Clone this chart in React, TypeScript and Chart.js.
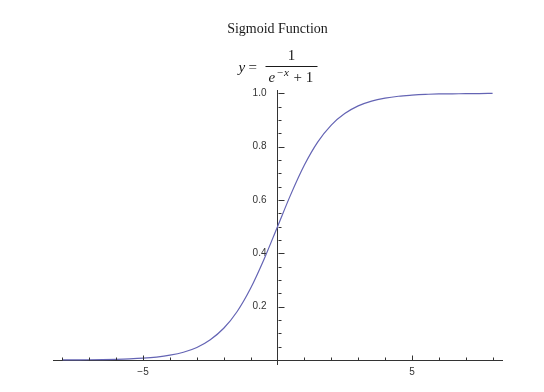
import { useEffect, useRef } from "react";
import { Chart, registerables } from "chart.js";

Chart.register(...registerables);

const xValues = [-8, -7.5, -7, -6.5, -6, -5.5, -5, -4.5, -4, -3.5, -3, -2.5, -2, -1.5, -1, -0.5, 0, 0.5, 1, 1.5, 2, 2.5, 3, 3.5, 4, 4.5, 5, 5.5, 6, 6.5, 7, 7.5, 8];
const yValues = [0.0003, 0.0006, 0.0009, 0.0015, 0.0025, 0.0041, 0.0067, 0.011, 0.018, 0.029, 0.047, 0.076, 0.119, 0.182, 0.269, 0.378, 0.5, 0.622, 0.731, 0.818, 0.881, 0.924, 0.953, 0.971, 0.982, 0.989, 0.993, 0.996, 0.998, 0.998, 0.999, 0.999, 1.0];

const xMajorTicks = [-5, 5];
const xMinorTicks = [-8, -7, -6, -4, -3, -2, -1, 1, 2, 3, 4, 6, 7, 8];
const yMajorTicks = [0.2, 0.4, 0.6, 0.8, 1.0];
const yMinorTicks = [0.05, 0.1, 0.15, 0.25, 0.3, 0.35, 0.45, 0.5, 0.55, 0.65, 0.7, 0.75, 0.85, 0.9, 0.95];

const chartTitle = "Sigmoid Function";

const AXIS = "#333333";
const TEXT = "#333333";
const CURVE = "rgb(100,100,180)";
const Y_LABEL_GAP = 11;

const ticksPlugin = {
  id: "mmaTicks",
  beforeDraw(chart: any) {
    const ys = chart.scales.y;
    const items = ys.getLabelItems ? ys.getLabelItems(chart.chartArea) : null;
    if (items && !(items as any).__shifted) {
      items.forEach((it: any) => {
        if (it.options && it.options.translation) it.options.translation[0] -= Y_LABEL_GAP;
      });
      (items as any).__shifted = true;
    }
  },
  afterDraw(chart: any) {
    const { ctx, scales } = chart;
    const xs = scales.x;
    const ys = scales.y;
    const y0 = Math.round(ys.getPixelForValue(0)) + 0.5;
    const x0 = Math.round(xs.getPixelForValue(0)) + 0.5;
    ctx.save();
    ctx.strokeStyle = AXIS;
    ctx.lineWidth = 1;
    ctx.beginPath();
    const xt = (v: number, len: number) => {
      const px = Math.round(xs.getPixelForValue(v)) + 0.5;
      ctx.moveTo(px, y0);
      ctx.lineTo(px, y0 - len);
    };
    xMinorTicks.forEach((v) => xt(v, 3));
    xMajorTicks.forEach((v) => xt(v, 5));
    const yt = (v: number, len: number) => {
      const py = Math.round(ys.getPixelForValue(v)) + 0.5;
      ctx.moveTo(x0, py);
      ctx.lineTo(x0 + len, py);
    };
    yMinorTicks.forEach((v) => yt(v, 3));
    yMajorTicks.forEach((v) => yt(v, 6));
    ctx.stroke();

    // formula  y = 1 / (e^{-x} + 1)
    const cx = xs.getPixelForValue(0);
    ctx.fillStyle = "#1a1a1a";
    ctx.textBaseline = "alphabetic";
    ctx.font = "italic 15px 'Liberation Serif'";
    ctx.textAlign = "left";
    ctx.fillText("y", cx - 39, 72);
    ctx.font = "15px 'Liberation Serif'";
    ctx.fillText("=", cx - 29, 72);
    ctx.beginPath();
    ctx.strokeStyle = "#1a1a1a";
    ctx.moveTo(cx - 12, 66.5);
    ctx.lineTo(cx + 40, 66.5);
    ctx.stroke();
    ctx.textAlign = "center";
    ctx.fillText("1", cx + 14, 60);
    ctx.textAlign = "left";
    ctx.font = "italic 15px 'Liberation Serif'";
    ctx.fillText("e", cx - 9, 82);
    ctx.font = "italic 11px 'Liberation Serif'";
    ctx.fillText("\u2212x", cx - 1, 76);
    ctx.font = "15px 'Liberation Serif'";
    ctx.fillText("+ 1", cx + 16, 82);
    ctx.restore();
  },
};

export default function App() {
  const ref = useRef<HTMLCanvasElement | null>(null);

  useEffect(() => {
    if (!ref.current) return;
    const chart = new Chart(ref.current, {
      type: "line",
      data: {
        labels: xValues,
        datasets: [
          {
            data: xValues.map((x, i) => ({ x, y: yValues[i] })),
            borderColor: CURVE,
            borderWidth: 1.2,
            pointRadius: 0,
            fill: false,
            cubicInterpolationMode: "monotone",
          },
        ],
      },
      options: {
        animation: false,
        responsive: false,
        devicePixelRatio: 1,
        events: [],
        layout: { padding: { top: 0, left: 53, right: 42, bottom: 28 } },
        plugins: {
          legend: { display: false },
          tooltip: { enabled: false },
          title: {
            display: true,
            text: chartTitle,
            color: "#1a1a1a",
            font: { family: "'Liberation Serif'", size: 14, weight: "normal", lineHeight: 1.2 },
            padding: { top: 20.5, bottom: 52.7 },
          },
        },
        scales: {
          x: {
            type: "linear",
            min: -8.35,
            max: 8.35,
            position: { y: 0 } as any,
            afterBuildTicks: (s: any) => {
              s.ticks = xMajorTicks.map((v) => ({ value: v }));
            },
            grid: { display: true, drawOnChartArea: false, drawTicks: false },
            border: { display: true, color: AXIS, width: 1 },
            ticks: {
              padding: 6,
              color: TEXT,
              font: { family: "'Liberation Sans'", size: 10 },
              callback: (v: any) => (v < 0 ? "\u2212" + Math.abs(v) : String(v)),
            },
          },
          y: {
            type: "linear",
            min: -0.015,
            max: 1.0125,
            position: { x: 0 } as any,
            afterBuildTicks: (s: any) => {
              s.ticks = yMajorTicks.map((v) => ({ value: v }));
            },
            grid: { display: true, drawOnChartArea: false, drawTicks: false },
            border: { display: true, color: AXIS, width: 1 },
            ticks: {
              padding: 11,
              color: TEXT,
              font: { family: "'Liberation Sans'", size: 10 },
              callback: (v: any) => Number(v).toFixed(1),
            },
          },
        },
      },
      plugins: [ticksPlugin],
    });
    return () => chart.destroy();
  }, []);

  return (
    <canvas
      ref={ref}
      width={544}
      height={392}
      style={{ position: "absolute", left: 0, top: 0, width: 544, height: 392, background: "#fff" }}
    />
  );
}
